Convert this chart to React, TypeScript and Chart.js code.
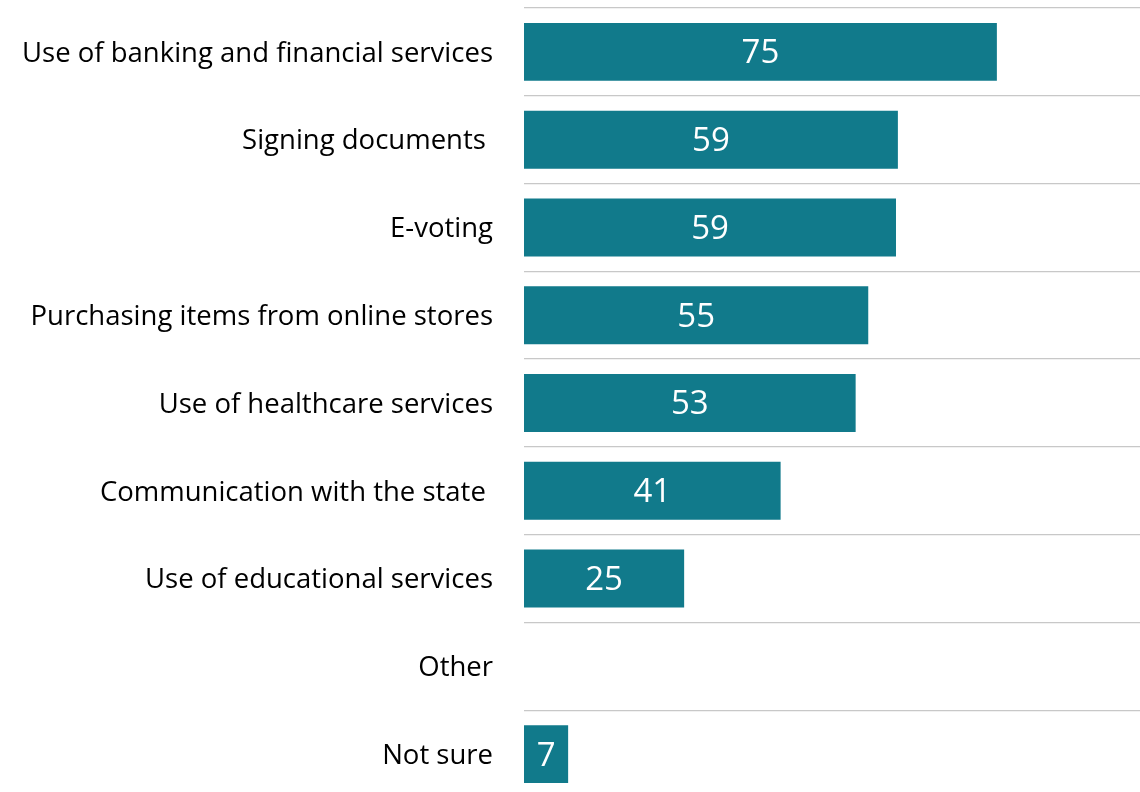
import React, { useEffect, useRef } from "react";
import { Chart, registerables } from "chart.js";

Chart.register(...registerables);

const categories = [
  "Use of banking and financial services",
  "Signing documents ",
  "E-voting",
  "Purchasing items from online stores",
  "Use of healthcare services",
  "Communication with the state ",
  "Use of educational services",
  "Other",
  "Not sure",
];
const values: (number | null)[] = [75, 59.3, 59, 54.6, 52.6, 40.7, 25.4, null, 7];
const valueLabels = ["75", "59", "59", "55", "53", "41", "25", "", "7"];

const BAR_COLOR = "#117A8B";
const FONT = "'Open Sans', sans-serif";

const labelPlugin = {
  id: "barValueLabels",
  afterDatasetsDraw(chart: any) {
    const ctx = chart.ctx;
    const meta = chart.getDatasetMeta(0);
    ctx.save();
    ctx.fillStyle = "#ffffff";
    ctx.font = `33px ${FONT}`;
    ctx.textAlign = "center";
    ctx.textBaseline = "middle";
    meta.data.forEach((bar: any, i: number) => {
      if (values[i] == null) return;
      const cx = (bar.x + bar.base) / 2;
      ctx.fillText(valueLabels[i], cx, bar.y + 2);
    });
    ctx.restore();
  },
};

export default function App() {
  const ref = useRef<HTMLCanvasElement>(null);
  useEffect(() => {
    if (!ref.current) return;
    const chart = new Chart(ref.current, {
      type: "bar",
      data: {
        labels: categories,
        datasets: [
          {
            data: values as any,
            backgroundColor: BAR_COLOR,
            barPercentage: 0.66,
            categoryPercentage: 1,
          },
        ],
      },
      options: {
        indexAxis: "y",
        animation: false,
        responsive: false,
        maintainAspectRatio: false,
        layout: { padding: { top: 8, bottom: 2, left: 0, right: 0 } },
        plugins: {
          legend: { display: false },
          tooltip: { enabled: false },
        },
        scales: {
          x: {
            display: false,
            min: 0,
            max: 97.7,
          },
          y: {
            border: { display: false },
            grid: {
              color: "#C8C8C8",
              lineWidth: 1.3,
              drawTicks: true,
              tickLength: 31,
              tickColor: "rgba(0,0,0,0)",
              offset: true,
            },
            ticks: {
              color: "#000000",
              padding: 0,
              labelOffset: 2,
              font: { family: FONT, size: 27.5 },
            },
            afterFit(scale: any) {
              scale.width = 524;
              scale.paddingTop = 0;
              scale.paddingBottom = 0;
            },
          },
        },
      },
      plugins: [labelPlugin],
    });
    return () => chart.destroy();
  }, []);
  return (
    <div
      style={{
        position: "fixed",
        left: 0,
        top: 0,
        width: 1140,
        height: 792,
        overflow: "hidden",
        background: "#fff",
      }}
    >
      <canvas ref={ref} width={1140} height={800} style={{ display: "block" }} />
    </div>
  );
}
